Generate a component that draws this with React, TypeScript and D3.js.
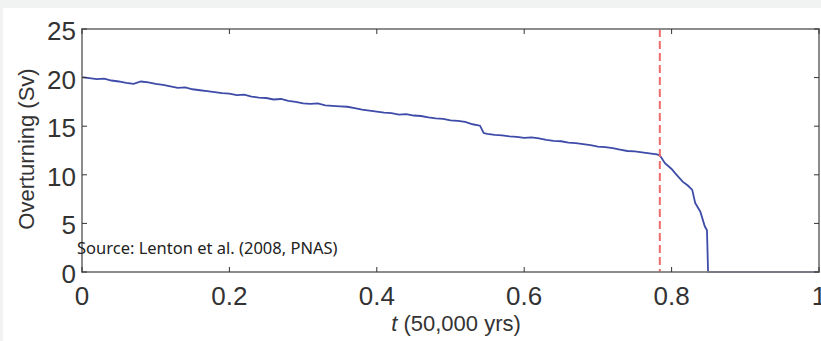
import { useEffect, useRef } from 'react';
import * as d3 from 'd3';

// time in units of 50,000 yrs
const tValues = [
  0, 0.01, 0.02, 0.03, 0.04, 0.05, 0.06, 0.07, 0.08, 0.09,
  0.1, 0.11, 0.12, 0.13, 0.14, 0.15, 0.16, 0.17, 0.18, 0.19,
  0.2, 0.21, 0.22, 0.23, 0.24, 0.25, 0.26, 0.27, 0.28, 0.29,
  0.3, 0.31, 0.32, 0.33, 0.34, 0.35, 0.36, 0.37, 0.38, 0.39,
  0.4, 0.41, 0.42, 0.43, 0.44, 0.45, 0.46, 0.47, 0.48, 0.49,
  0.5, 0.51, 0.52, 0.53, 0.54, 0.545, 0.55, 0.56, 0.57, 0.58, 0.59,
  0.6, 0.61, 0.62, 0.63, 0.64, 0.65, 0.66, 0.67, 0.68, 0.69,
  0.7, 0.71, 0.72, 0.73, 0.74, 0.75, 0.76, 0.77, 0.78, 0.784,
  0.791, 0.8, 0.805, 0.815, 0.822, 0.828, 0.832, 0.839, 0.845, 0.848, 0.8495, 1.0,
];

// overturning strength (Sv)
const overturning = [
  20.05, 19.95, 19.85, 19.9, 19.7, 19.6, 19.45, 19.35, 19.6, 19.5,
  19.35, 19.25, 19.1, 18.95, 19.0, 18.8, 18.7, 18.6, 18.5, 18.4,
  18.35, 18.2, 18.25, 18.05, 17.95, 17.9, 17.75, 17.8, 17.6, 17.5,
  17.35, 17.3, 17.35, 17.15, 17.1, 17.05, 17.0, 16.85, 16.7, 16.6,
  16.5, 16.4, 16.35, 16.2, 16.25, 16.1, 16.05, 15.9, 15.8, 15.75,
  15.6, 15.55, 15.45, 15.2, 15.05, 14.3, 14.2, 14.1, 14.05, 13.95, 13.9,
  13.8, 13.85, 13.75, 13.6, 13.5, 13.45, 13.3, 13.25, 13.15, 13.05,
  12.9, 12.85, 12.75, 12.6, 12.45, 12.4, 12.3, 12.2, 12.1, 12.0,
  11.2, 10.6, 10.15, 9.3, 8.9, 8.45, 7.1, 6.2, 4.7, 4.3, 0, 0,
];

const xTicks = [0, 0.2, 0.4, 0.6, 0.8, 1];
const yTicks = [0, 5, 10, 15, 20, 25];
const tippingPoint = 0.784;

const width = 821;
const height = 341;
const margin = { top: 29, right: 2, bottom: 69, left: 82 };

export default function App() {
  const svgRef = useRef<SVGSVGElement>(null);

  useEffect(() => {
    const svg = d3.select(svgRef.current);
    svg.selectAll('*').remove();

    const boundsWidth = width - margin.left - margin.right;
    const boundsHeight = height - margin.top - margin.bottom;

    // light page frame
    svg.append('rect').attr('width', width).attr('height', height).attr('fill', '#f1f3f3');
    svg.append('rect').attr('x', 3).attr('y', 8).attr('width', width - 3).attr('height', height - 8).attr('fill', '#fff');

    const g = svg.append('g').attr('transform', `translate(${margin.left},${margin.top})`);

    const x = d3.scaleLinear().domain([0, 1]).range([0, boundsWidth]);
    const y = d3.scaleLinear().domain([0, 25]).range([boundsHeight, 0]);

    const font = 'Liberation Sans, Arial, sans-serif';

    // data line
    const data = tValues.map((t, i) => ({ t, v: overturning[i] }));
    g.append('path')
      .datum(data)
      .attr('fill', 'none')
      .attr('stroke', '#3e4ba8')
      .attr('stroke-width', 1.8)
      .attr('d', d3.line<{ t: number; v: number }>().x(d => x(d.t)).y(d => y(d.v)));

    // red dashed line
    g.append('line')
      .attr('x1', x(tippingPoint)).attr('x2', x(tippingPoint))
      .attr('y1', 0).attr('y2', boundsHeight)
      .attr('stroke', '#f06a6a')
      .attr('stroke-width', 2)
      .attr('stroke-dasharray', '8,4');

    // frame
    g.append('rect')
      .attr('width', boundsWidth).attr('height', boundsHeight)
      .attr('fill', 'none').attr('stroke', '#808080').attr('stroke-width', 1.8);

    // ticks, inward on all sides
    const tickLen = 5;
    xTicks.forEach(t => {
      g.append('line').attr('x1', x(t)).attr('x2', x(t)).attr('y1', boundsHeight).attr('y2', boundsHeight - tickLen).attr('stroke', '#333');
      g.append('line').attr('x1', x(t)).attr('x2', x(t)).attr('y1', 0).attr('y2', tickLen).attr('stroke', '#333');
      g.append('text')
        .attr('x', x(t)).attr('y', boundsHeight + 33)
        .attr('text-anchor', 'middle')
        .style('font-family', font).style('font-size', '26px').style('fill', '#333')
        .text(d3.format('~g')(t));
    });
    yTicks.forEach(v => {
      g.append('line').attr('x1', 0).attr('x2', tickLen).attr('y1', y(v)).attr('y2', y(v)).attr('stroke', '#333');
      g.append('line').attr('x1', boundsWidth).attr('x2', boundsWidth - tickLen).attr('y1', y(v)).attr('y2', y(v)).attr('stroke', '#333');
      g.append('text')
        .attr('x', -6).attr('y', y(v) + 11)
        .attr('text-anchor', 'end')
        .style('font-family', font).style('font-size', '26px').style('fill', '#333')
        .text(v);
    });

    // axis titles
    const xTitle = svg.append('text')
      .attr('x', 456).attr('y', 331)
      .attr('text-anchor', 'middle')
      .style('font-family', font).style('font-size', '22px').style('fill', '#333');
    xTitle.append('tspan').style('font-style', 'italic').text('t');
    xTitle.append('tspan').text(' (50,000 yrs)');

    svg.append('text')
      .attr('transform', `translate(34,149) rotate(-90)`)
      .attr('text-anchor', 'middle')
      .style('font-family', font).style('font-size', '22px').style('fill', '#333')
      .text('Overturning (Sv)');

    // source note
    svg.append('text')
      .attr('x', 77).attr('y', 254)
      .style('font-family', 'Noto Sans, sans-serif').style('font-size', '16.5px').style('fill', '#222')
      .text('Source: Lenton et al. (2008, PNAS)');
  }, []);

  return (
    <svg ref={svgRef} width={width} height={height} style={{ position: 'fixed', top: 0, left: 0 }} />
  );
}
